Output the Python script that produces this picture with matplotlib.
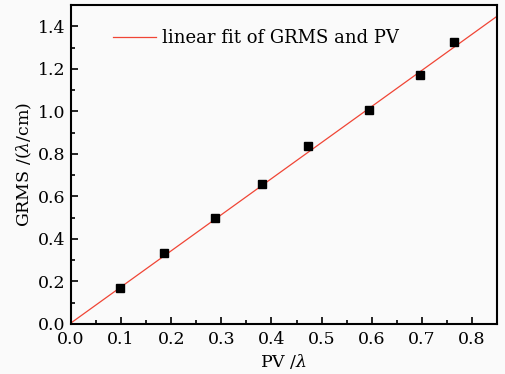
import matplotlib
matplotlib.use("Agg")
import matplotlib.pyplot as plt
import numpy as np
from matplotlib.ticker import MultipleLocator

pv = [0.097, 0.185, 0.288, 0.381, 0.473, 0.595, 0.697, 0.765]
grms = [0.167, 0.335, 0.500, 0.660, 0.838, 1.007, 1.170, 1.325]
fit_x = [0.0, 0.85]
fit_y = [0.005, 1.447]

plt.rcParams['font.family'] = ['DejaVu Serif']
plt.rcParams['mathtext.fontset'] = 'dejavuserif'

fig = plt.figure(figsize=(5.06, 3.74), dpi=100)
fig.patch.set_facecolor('#fafafa')
ax = fig.add_axes([71/506, 1-324/374, (497-71)/506, (324-5)/374])
ax.set_facecolor('#fafafa')

ax.plot(fit_x, fit_y, color='#f04535', lw=0.9, label='linear fit of GRMS and PV')
ax.plot(pv, grms, 's', color='black', ms=5.5)

ax.set_xlim(0, 0.85)
ax.set_ylim(0, 1.5)
ax.xaxis.set_major_locator(MultipleLocator(0.1))
ax.xaxis.set_minor_locator(MultipleLocator(0.05))
ax.yaxis.set_major_locator(MultipleLocator(0.2))
ax.yaxis.set_minor_locator(MultipleLocator(0.1))
ax.xaxis.set_major_formatter(matplotlib.ticker.FormatStrFormatter('%.1f'))
ax.yaxis.set_major_formatter(matplotlib.ticker.FormatStrFormatter('%.1f'))
ax.tick_params(which='both', direction='in', width=1.2, labelsize=12.5)
ax.tick_params(axis='y', pad=4)
ax.tick_params(axis='x', pad=5)
ax.tick_params(which='major', length=5)
ax.tick_params(which='minor', length=3)
for s in ax.spines.values():
    s.set_linewidth(1.5)

ax.set_xlabel(r'PV /$\lambda$', fontsize=12.5, labelpad=3)
ax.set_ylabel(r'GRMS /($\lambda$/cm)', fontsize=12.5, labelpad=3)

ax.legend(loc='upper left', frameon=False, fontsize=13, handlelength=2.4,
          bbox_to_anchor=(0.06, 0.975), handletextpad=0.35)

fig.savefig('out.png', dpi=100, facecolor=fig.get_facecolor())
